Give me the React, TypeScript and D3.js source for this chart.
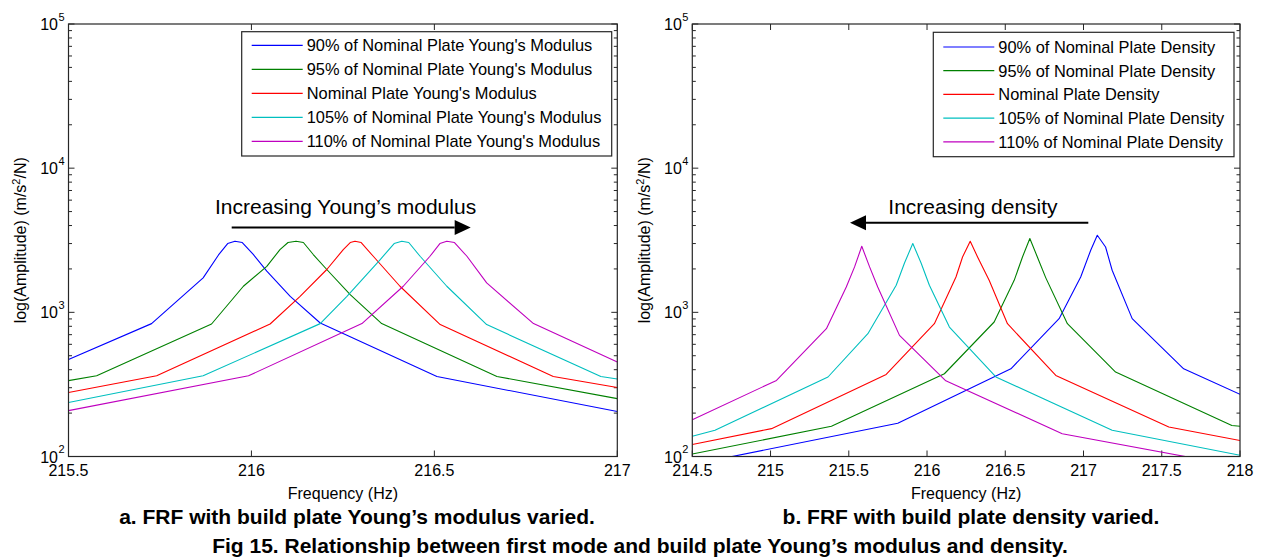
import React from 'react';
import * as d3 from 'd3';

// ---------- DATA ----------
// Panel a: Young's modulus varied  [frequency Hz, amplitude]
const aE90 = [[215.5,470],[215.727,835],[215.868,1734],[215.91,2500],[215.935,3000],[215.955,3110],[215.975,3050],[216.005,2520],[216.042,1930],[216.106,1290],[216.188,843],[216.507,359],[217.0,205]];
const aE95 = [[215.5,336],[215.577,363],[215.891,830],[215.978,1517],[216.042,2083],[216.078,2723],[216.1,3050],[216.122,3110],[216.142,3050],[216.169,2518],[216.206,1982],[216.27,1327],[216.356,835],[216.671,359],[217.0,252]];
const aE100 = [[215.5,278],[215.741,363],[216.051,830],[216.133,1291],[216.206,1982],[216.251,2723],[216.27,3050],[216.283,3110],[216.3,3050],[216.333,2449],[216.406,1517],[216.516,822],[216.825,359],[217.0,301]];
const aE105 = [[215.5,237],[215.868,363],[216.188,835],[216.261,1291],[216.352,2323],[216.39,3000],[216.411,3110],[216.43,3050],[216.461,2449],[216.534,1517],[216.643,822],[216.955,359],[217.0,345]];
const aE110 = [[215.5,208],[215.992,363],[216.302,835],[216.415,1517],[216.488,2449],[216.515,3000],[216.534,3110],[216.555,3050],[216.589,2449],[216.643,1600],[216.771,835],[217.0,452]];

// Panel b: density varied
const bD90 = [[214.5,88],[215.813,170],[216.536,406],[216.844,904],[216.982,1758],[217.046,2697],[217.088,3428],[217.141,2838],[217.183,1958],[217.311,904],[217.64,406],[218.0,270]];
const bD95 = [[214.5,104],[215.389,162],[216.111,375],[216.429,857],[216.557,1667],[216.61,2421],[216.657,3251],[216.705,2421],[216.759,1734],[216.897,834],[217.205,385],[217.948,164],[218.0,162]];
const bD100 = [[214.5,121],[215.006,156],[215.739,371],[216.047,834],[216.185,1758],[216.227,2421],[216.276,3111],[216.323,2421],[216.397,1667],[216.514,834],[216.823,365],[217.545,160],[218.0,129]];
const bD105 = [[214.5,138],[214.645,152],[215.367,356],[215.622,711],[215.803,1541],[215.856,2200],[215.909,2999],[215.962,2200],[216.015,1541],[216.143,791],[216.44,356],[217.183,152],[218.0,102]];
const bD110 = [[214.5,180],[215.038,337],[215.357,770],[215.484,1500],[215.537,2066],[215.583,2872],[215.633,2066],[215.685,1500],[215.824,692],[216.12,335],[216.864,144],[218.0,85]];

const aTicksX = [215.5, 216, 216.5, 217];
const bTicksX = [214.5, 215, 215.5, 216, 216.5, 217, 217.5, 218];
const yExponents = [2, 3, 4, 5];

const aLegend = [
  "90% of Nominal Plate Young's Modulus",
  "95% of Nominal Plate Young's Modulus",
  "Nominal Plate Young's Modulus",
  "105% of Nominal Plate Young's Modulus",
  "110% of Nominal Plate Young's Modulus",
];
const bLegend = [
  "90% of Nominal Plate Density",
  "95% of Nominal Plate Density",
  "Nominal Plate Density",
  "105% of Nominal Plate Density",
  "110% of Nominal Plate Density",
];

// ---------- STYLE ----------
const COLORS = ['#0000ff', '#008000', '#ff0000', '#00bfbf', '#bf00bf'];
const FONT = "'Liberation Sans', Arial, Helvetica, sans-serif";
const AXIS = '#262626';

type PanelProps = {
  id: string;
  x0: number; x1: number;
  domain: [number, number];
  ticks: number[];
  series: number[][][];
  legend: string[];
  legBox: { x: number; y: number; w: number; h: number; row0: number; dy: number };
  arrow: { text: string; tx: number; from: number; to: number; ay: number };
  yLabelX: number;
  tickFmt: (v: number) => string;
};

const TOP = 24;
const BOTTOM = 456.5;

function Panel(p: PanelProps) {
  const x = d3.scaleLinear().domain(p.domain).range([p.x0, p.x1]);
  const y = d3.scaleLog().domain([100, 100000]).range([BOTTOM, TOP]);
  const line = d3.line<number[]>().x(d => x(d[0])).y(d => y(d[1]));
  const minor: number[] = [];
  yExponents.slice(0, -1).forEach(e => {
    for (let k = 2; k <= 9; k++) minor.push(k * Math.pow(10, e));
  });
  const cy = (TOP + BOTTOM) / 2;
  const cx = (p.x0 + p.x1) / 2;
  const lb = p.legBox;
  const a = p.arrow;
  const headDir = a.to > a.from ? 1 : -1;
  const headLen = 16;
  const headBase = a.to - headDir * headLen;
  return (
    <g>
      <defs>
        <clipPath id={'clip' + p.id}>
          <rect x={p.x0} y={TOP} width={p.x1 - p.x0} height={BOTTOM - TOP} />
        </clipPath>
      </defs>
      <rect x={p.x0} y={TOP} width={p.x1 - p.x0} height={BOTTOM - TOP} fill="#fff" />
      {/* ticks */}
      {p.ticks.map(t => (
        <g key={'xt' + t}>
          <line x1={x(t)} x2={x(t)} y1={BOTTOM} y2={BOTTOM - 6} stroke={AXIS} strokeWidth={1} />
          <line x1={x(t)} x2={x(t)} y1={TOP} y2={TOP + 6} stroke={AXIS} strokeWidth={1} />
          <text x={x(t)} y={476} textAnchor="middle" fontSize={16} fontFamily={FONT} fill="#000">{p.tickFmt(t)}</text>
        </g>
      ))}
      {minor.map(v => (
        <g key={'ym' + v}>
          <line x1={p.x0} x2={p.x0 + 3.5} y1={y(v)} y2={y(v)} stroke={AXIS} strokeWidth={1} />
          <line x1={p.x1} x2={p.x1 - 3.5} y1={y(v)} y2={y(v)} stroke={AXIS} strokeWidth={1} />
        </g>
      ))}
      {yExponents.map(e => {
        const yy = y(Math.pow(10, e));
        return (
          <g key={'yt' + e}>
            <line x1={p.x0} x2={p.x0 + 6} y1={yy} y2={yy} stroke={AXIS} strokeWidth={1} />
            <line x1={p.x1} x2={p.x1 - 6} y1={yy} y2={yy} stroke={AXIS} strokeWidth={1} />
            <text x={p.x0 - 10.5} y={yy + 6} textAnchor="end" fontSize={16} fontFamily={FONT} fill="#000">10</text>
            <text x={p.x0 - 10} y={yy - 3.5} textAnchor="start" fontSize={11} fontFamily={FONT} fill="#000">{e}</text>
          </g>
        );
      })}
      {/* series */}
      <g clipPath={`url(#clip${p.id})`}>
        {p.series.map((s, i) => (
          <path key={i} d={line(s) || ''} fill="none" stroke={COLORS[i]} strokeWidth={1.1} strokeLinejoin="round" />
        ))}
      </g>
      <rect x={p.x0} y={TOP} width={p.x1 - p.x0} height={BOTTOM - TOP} fill="none" stroke={AXIS} strokeWidth={1.2} />
      {/* legend */}
      <rect x={lb.x} y={lb.y} width={lb.w} height={lb.h} fill="#fff" stroke={AXIS} strokeWidth={1.2} />
      {p.legend.map((t, i) => {
        const ry = lb.row0 + i * lb.dy;
        return (
          <g key={'lg' + i}>
            <line x1={lb.x + 10} x2={lb.x + 61} y1={ry} y2={ry} stroke={COLORS[i]} strokeWidth={1.2} />
            <text x={lb.x + 65} y={ry + 6} fontSize={16.4} fontFamily={FONT} fill="#000">{t}</text>
          </g>
        );
      })}
      {/* annotation */}
      <text x={a.tx} y={214} fontSize={21} fontFamily={FONT} fill="#000">{a.text}</text>
      <line x1={a.from} x2={headBase} y1={a.ay} y2={a.ay} stroke="#000" strokeWidth={2} />
      <path d={`M${a.to},${a.ay} L${headBase},${a.ay - 7.5} L${headBase},${a.ay + 7.5} Z`} fill="#000" />
      {/* axis labels */}
      <text x={cx} y={499} textAnchor="middle" fontSize={16} fontFamily={FONT} fill="#000">Frequency (Hz)</text>
      <text transform={`translate(${p.yLabelX},${cy}) rotate(-90)`} textAnchor="middle" fontSize={16} fontFamily={FONT} fill="#000">
        log(Amplitude) (m/s<tspan dy={-6} fontSize={11}>2</tspan><tspan dy={6}>/N)</tspan>
      </text>
    </g>
  );
}

const fmt = (v: number) => d3.format('~f')(v);

export default function App() {
  return (
    <svg width={1262} height={559} style={{ position: 'absolute', left: 0, top: 0, background: '#fff' }}>
      <rect x={0} y={0} width={1262} height={559} fill="#fff" />
      <Panel
        id="a"
        x0={68.5}
        x1={617.3}
        domain={[215.5, 217]}
        ticks={aTicksX}
        series={[aE90, aE95, aE100, aE105, aE110]}
        legend={aLegend}
        legBox={{ x: 241.7, y: 31.7, w: 370, h: 124.3, row0: 45.3, dy: 24 }}
        arrow={{ text: 'Increasing Young\u2019s modulus', tx: 215, from: 231.7, to: 470.7, ay: 227.5 }}
        yLabelX={26}
        tickFmt={fmt}
      />
      <Panel
        id="b"
        x0={692.3}
        x1={1240}
        domain={[214.5, 218]}
        ticks={bTicksX}
        series={[bD90, bD95, bD100, bD105, bD110]}
        legend={bLegend}
        legBox={{ x: 933.3, y: 32.3, w: 300.7, h: 124.4, row0: 47, dy: 23.7 }}
        arrow={{ text: 'Increasing density', tx: 888.3, from: 1088.3, to: 850, ay: 222.7 }}
        yLabelX={650}
        tickFmt={fmt}
      />
      <text x={357} y={524} textAnchor="middle" fontSize={21} fontWeight="bold" fontFamily={FONT} fill="#000">a. FRF with build plate Young’s modulus varied.</text>
      <text x={971} y={524} textAnchor="middle" fontSize={21} fontWeight="bold" fontFamily={FONT} fill="#000">b. FRF with build plate density varied.</text>
      <text x={640} y={553} textAnchor="middle" fontSize={21} fontWeight="bold" fontFamily={FONT} fill="#000">Fig 15. Relationship between first mode and build plate Young’s modulus and density.</text>
    </svg>
  );
}
